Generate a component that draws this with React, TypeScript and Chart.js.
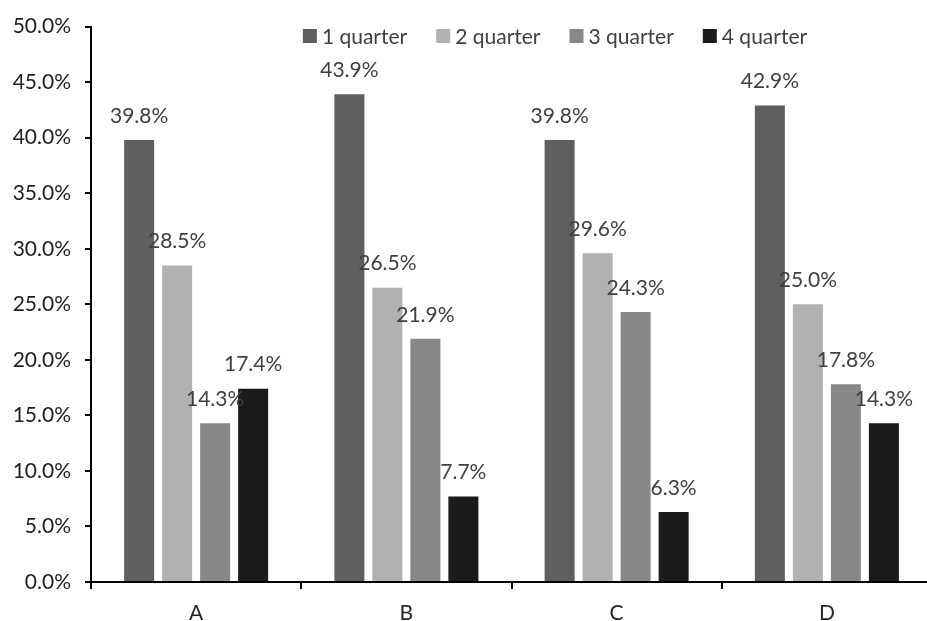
import { useEffect, useRef } from "react";
import { Chart, registerables } from "chart.js";

Chart.register(...registerables);

const categories = ["A", "B", "C", "D"];
const seriesNames = ["1 quarter", "2 quarter", "3 quarter", "4 quarter"];
const seriesColors = ["#5f5f5f", "#b1b1b1", "#888888", "#1b1b1b"];
const quarter1 = [39.8, 43.9, 39.8, 42.9];
const quarter2 = [28.5, 26.5, 29.6, 25.0];
const quarter3 = [14.3, 21.9, 24.3, 17.8];
const quarter4 = [17.4, 7.7, 6.3, 14.3];
const seriesValues = [quarter1, quarter2, quarter3, quarter4];

const FONT = "Lato, 'Open Sans', sans-serif";
const FONT_SIZE = 21;

// value text above each bar
const valueLabels = {
  id: "valueLabels",
  afterDatasetsDraw(chart: Chart) {
    const { ctx } = chart;
    ctx.save();
    ctx.font = `${FONT_SIZE}px ${FONT}`;
    ctx.fillStyle = "#404040";
    ctx.textAlign = "center";
    ctx.textBaseline = "middle";
    chart.data.datasets.forEach((ds, i) => {
      chart.getDatasetMeta(i).data.forEach((bar, j) => {
        const v = ds.data[j] as number;
        ctx.fillText(`${v.toFixed(1)}%`, bar.x, bar.y - 24);
      });
    });
    ctx.restore();
  },
};

// legend row drawn inside the plot, centred a bit right of the plot centre
const legendRow = {
  id: "legendRow",
  afterDraw(chart: Chart) {
    const { ctx } = chart;
    const box = 14;
    const gap = 5;
    const spacing = 29;
    const centerX = 555;
    const y = 36;
    ctx.save();
    ctx.font = `${FONT_SIZE}px ${FONT}`;
    ctx.textBaseline = "middle";
    const items = chart.data.datasets.map((ds) => ({
      label: ds.label as string,
      color: ds.backgroundColor as string,
      w: box + gap + ctx.measureText(ds.label as string).width,
    }));
    const total = items.reduce((s, it) => s + it.w, 0) + spacing * (items.length - 1);
    let x = centerX - total / 2;
    items.forEach((it) => {
      ctx.fillStyle = it.color;
      ctx.fillRect(x, y - box / 2, box, box);
      ctx.fillStyle = "#404040";
      ctx.fillText(it.label, x + box + gap, y + 1);
      x += it.w + spacing;
    });
    ctx.restore();
  },
};

export default function App() {
  const canvasRef = useRef<HTMLCanvasElement>(null);

  useEffect(() => {
    if (!canvasRef.current) return;

    const chart = new Chart(canvasRef.current, {
      type: "bar",
      data: {
        labels: categories,
        datasets: seriesNames.map((name, i) => ({
          label: name,
          data: seriesValues[i],
          backgroundColor: seriesColors[i],
          borderWidth: 0,
          barPercentage: 0.79,
          categoryPercentage: 0.723,
        })),
      },
      options: {
        responsive: true,
        maintainAspectRatio: false,
        animation: false,
        layout: {
          padding: { left: 10, top: 25, right: 8, bottom: 0 },
        },
        plugins: {
          legend: { display: false },
          tooltip: { enabled: false },
        },
        scales: {
          x: {
            grid: {
              display: true,
              drawOnChartArea: false,
              offset: true,
              tickLength: 7,
              color: "#000",
              lineWidth: 2,
            },
            border: { display: true, color: "#000", width: 2 },
            ticks: {
              color: "#262626",
              padding: 12,
              font: { family: FONT, size: FONT_SIZE },
            },
            afterFit: (scale) => {
              scale.height = 39;
            },
          },
          y: {
            min: 0,
            max: 50,
            grid: {
              display: true,
              drawOnChartArea: false,
              tickLength: 6,
              color: "#000",
              lineWidth: 2,
            },
            border: { display: true, color: "#000", width: 2 },
            ticks: {
              stepSize: 5,
              color: "#1e1e1e",
              padding: 14,
              font: { family: FONT, size: FONT_SIZE },
              callback: (value) => `${Number(value).toFixed(1)}%`,
            },
            afterFit: (scale) => {
              scale.width = 81;
            },
          },
        },
      },
      plugins: [valueLabels, legendRow],
    });

    return () => {
      chart.destroy();
    };
  }, []);

  return (
    <div
      style={{
        position: "absolute",
        left: 0,
        top: 0,
        width: 927,
        height: 621,
        overflow: "hidden",
        background: "#fff",
      }}
    >
      <div style={{ position: "relative", width: 940, height: 621 }}>
        <canvas ref={canvasRef}></canvas>
      </div>
    </div>
  );
}
